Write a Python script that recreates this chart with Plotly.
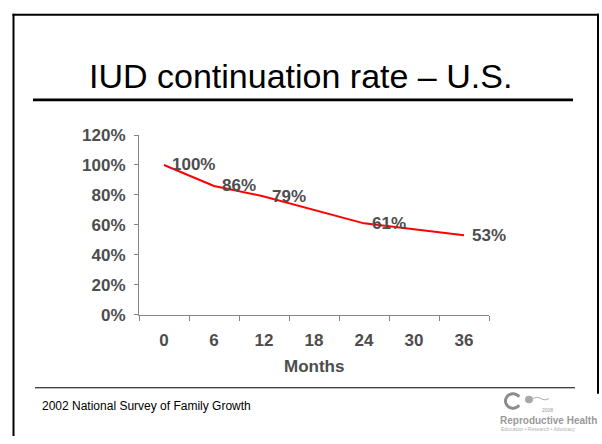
import numpy as np
import plotly.graph_objects as go

# ---- data ----
months = ["0", "6", "12", "18", "24", "30", "36"]
continuation = [100, 86, 79, None, 61, None, 53]
value_labels = ["100%", "86%", "79%", "", "61%", "", "53%"]
y_tick_vals = [0, 20, 40, 60, 80, 100, 120]
y_tick_labels = ["0%", "20%", "40%", "60%", "80%", "100%", "120%"]

title_text = "IUD continuation rate – U.S."
x_title = "Months"
source_text = "2002 National Survey of Family Growth"

W, H = 602, 444


def fx(px):
    return px / W


def fy(py):
    return 1 - py / H


LABEL_FONT = dict(family="Arial, Liberation Sans, sans-serif", size=17, color="#4d4d4d")
AXIS_GRAY = "#868686"

fig = go.Figure()
fig.add_trace(go.Scatter(
    x=months, y=continuation, mode="lines", connectgaps=True,
    line=dict(color="#ff0000", width=2), hoverinfo="skip", showlegend=False,
))

annotations = []
for i, (v, t) in enumerate(zip(continuation, value_labels)):
    if v is None:
        continue
    annotations.append(dict(
        x=i, y=v, xref="x", yref="y", text="<b>%s</b>" % t, showarrow=False,
        xanchor="left", yanchor="middle", xshift=7, borderpad=0,
        font=LABEL_FONT,
    ))

# title
annotations.append(dict(
    x=fx(300.5), y=fy(70.5), xref="paper", yref="paper", text=title_text,
    showarrow=False, xanchor="center", yanchor="middle",
    font=dict(family="Arial, Liberation Sans, sans-serif", size=34, color="#000000"),
))
# x axis title
annotations.append(dict(
    x=fx(314), y=fy(374), xref="paper", yref="paper", text="<b>%s</b>" % x_title,
    showarrow=False, xanchor="center", yanchor="middle", font=LABEL_FONT,
))
# source
annotations.append(dict(
    x=fx(41), y=fy(414.5), xref="paper", yref="paper", text=source_text,
    showarrow=False, xanchor="left", yanchor="middle", borderpad=0,
    font=dict(family="Arial, Liberation Sans, sans-serif", size=12, color="#000000"),
))
# logo texts
LOGO_GRAY = "#9a9a9a"
annotations.append(dict(
    x=fx(499), y=fy(430), xref="paper", yref="paper", text="<b>Reproductive Health</b>",
    showarrow=False, xanchor="left", yanchor="middle", borderpad=0,
    font=dict(family="Arial, Liberation Sans, sans-serif", size=10, color=LOGO_GRAY),
))
annotations.append(dict(
    x=fx(541), y=fy(419), xref="paper", yref="paper", text="2008",
    showarrow=False, xanchor="left", yanchor="middle", borderpad=0,
    font=dict(family="Arial, sans-serif", size=5, color=LOGO_GRAY),
))
annotations.append(dict(
    x=fx(500), y=fy(439), xref="paper", yref="paper",
    text="Education • Research • Advocacy",
    showarrow=False, xanchor="left", yanchor="middle", borderpad=0,
    font=dict(family="Arial, sans-serif", size=5, color="#b0b0b0"),
))

shapes = []
# slide border
shapes.append(dict(type="line", xref="paper", yref="paper",
                   x0=fx(13.5), x1=fx(13.5), y0=fy(5), y1=fy(446),
                   line=dict(color="#000", width=2)))
shapes.append(dict(type="line", xref="paper", yref="paper",
                   x0=fx(12.5), x1=fx(599), y0=fy(6), y1=fy(6),
                   line=dict(color="#000", width=2)))
shapes.append(dict(type="line", xref="paper", yref="paper",
                   x0=fx(598), x1=fx(598), y0=fy(5), y1=fy(402),
                   line=dict(color="#000", width=2)))
# title underline
shapes.append(dict(type="line", xref="paper", yref="paper",
                   x0=fx(33), x1=fx(573), y0=fy(95), y1=fy(95),
                   line=dict(color="#000", width=2.7)))
# footer rule
shapes.append(dict(type="line", xref="paper", yref="paper",
                   x0=fx(35), x1=fx(575), y0=fy(395.7), y1=fy(395.7),
                   line=dict(color="#000", width=1)))
# logo: open ring, dot and wave
ang = np.linspace(np.radians(35), np.radians(325), 40)
cx, cy, r = 513, 409.5, 7.5
pts = ["%s %.5f,%.5f" % ("M" if i == 0 else "L", fx(cx + r * np.cos(a)), fy(cy - r * np.sin(a)))
       for i, a in enumerate(ang)]
shapes.append(dict(type="path", xref="paper", yref="paper", path=" ".join(pts),
                   line=dict(color="#8c8c8c", width=3)))
shapes.append(dict(type="circle", xref="paper", yref="paper",
                   x0=fx(525), x1=fx(533), y0=fy(404), y1=fy(412),
                   fillcolor="#a8a8a8", line=dict(width=0)))
wx = np.linspace(533, 549, 20)
wy = 407 - 1.2 * np.sin((wx - 533) / 16 * 2 * np.pi)
wpts = ["%s %.5f,%.5f" % ("M" if i == 0 else "L", fx(a), fy(b)) for i, (a, b) in enumerate(zip(wx, wy))]
shapes.append(dict(type="path", xref="paper", yref="paper", path=" ".join(wpts),
                   line=dict(color="#a0a0a0", width=1)))

fig.update_layout(
    width=W, height=H, margin=dict(l=0, r=0, t=0, b=0),
    paper_bgcolor="white", plot_bgcolor="white",
    showlegend=False,
    annotations=annotations, shapes=shapes,
    xaxis=dict(
        type="category", domain=[fx(139), fx(489)], range=[-0.5, 6.5],
        showgrid=False, zeroline=False, showline=True, linecolor=AXIS_GRAY, linewidth=1,
        ticks="outside", ticklen=5, tickcolor=AXIS_GRAY, tickwidth=1, tickson="boundaries",
        tickfont=LABEL_FONT, ticklabelstandoff=10, fixedrange=True,
        tickprefix="<b>", ticksuffix="</b>",
    ),
    yaxis=dict(
        domain=[fy(319.3), fy(131.7)], range=[0, 120],
        tickvals=y_tick_vals, ticktext=["<b>%s</b>" % t for t in y_tick_labels],
        showgrid=False, zeroline=False, showline=True, linecolor=AXIS_GRAY, linewidth=1,
        ticks="outside", ticklen=4, tickcolor=AXIS_GRAY, tickwidth=1,
        tickfont=LABEL_FONT, ticklabelstandoff=5, fixedrange=True,
    ),
)

fig.write_html(
    "out.html",
    config={"displayModeBar": False},
    post_script="document.body.style.margin='0';document.body.style.overflow='hidden';",
)
